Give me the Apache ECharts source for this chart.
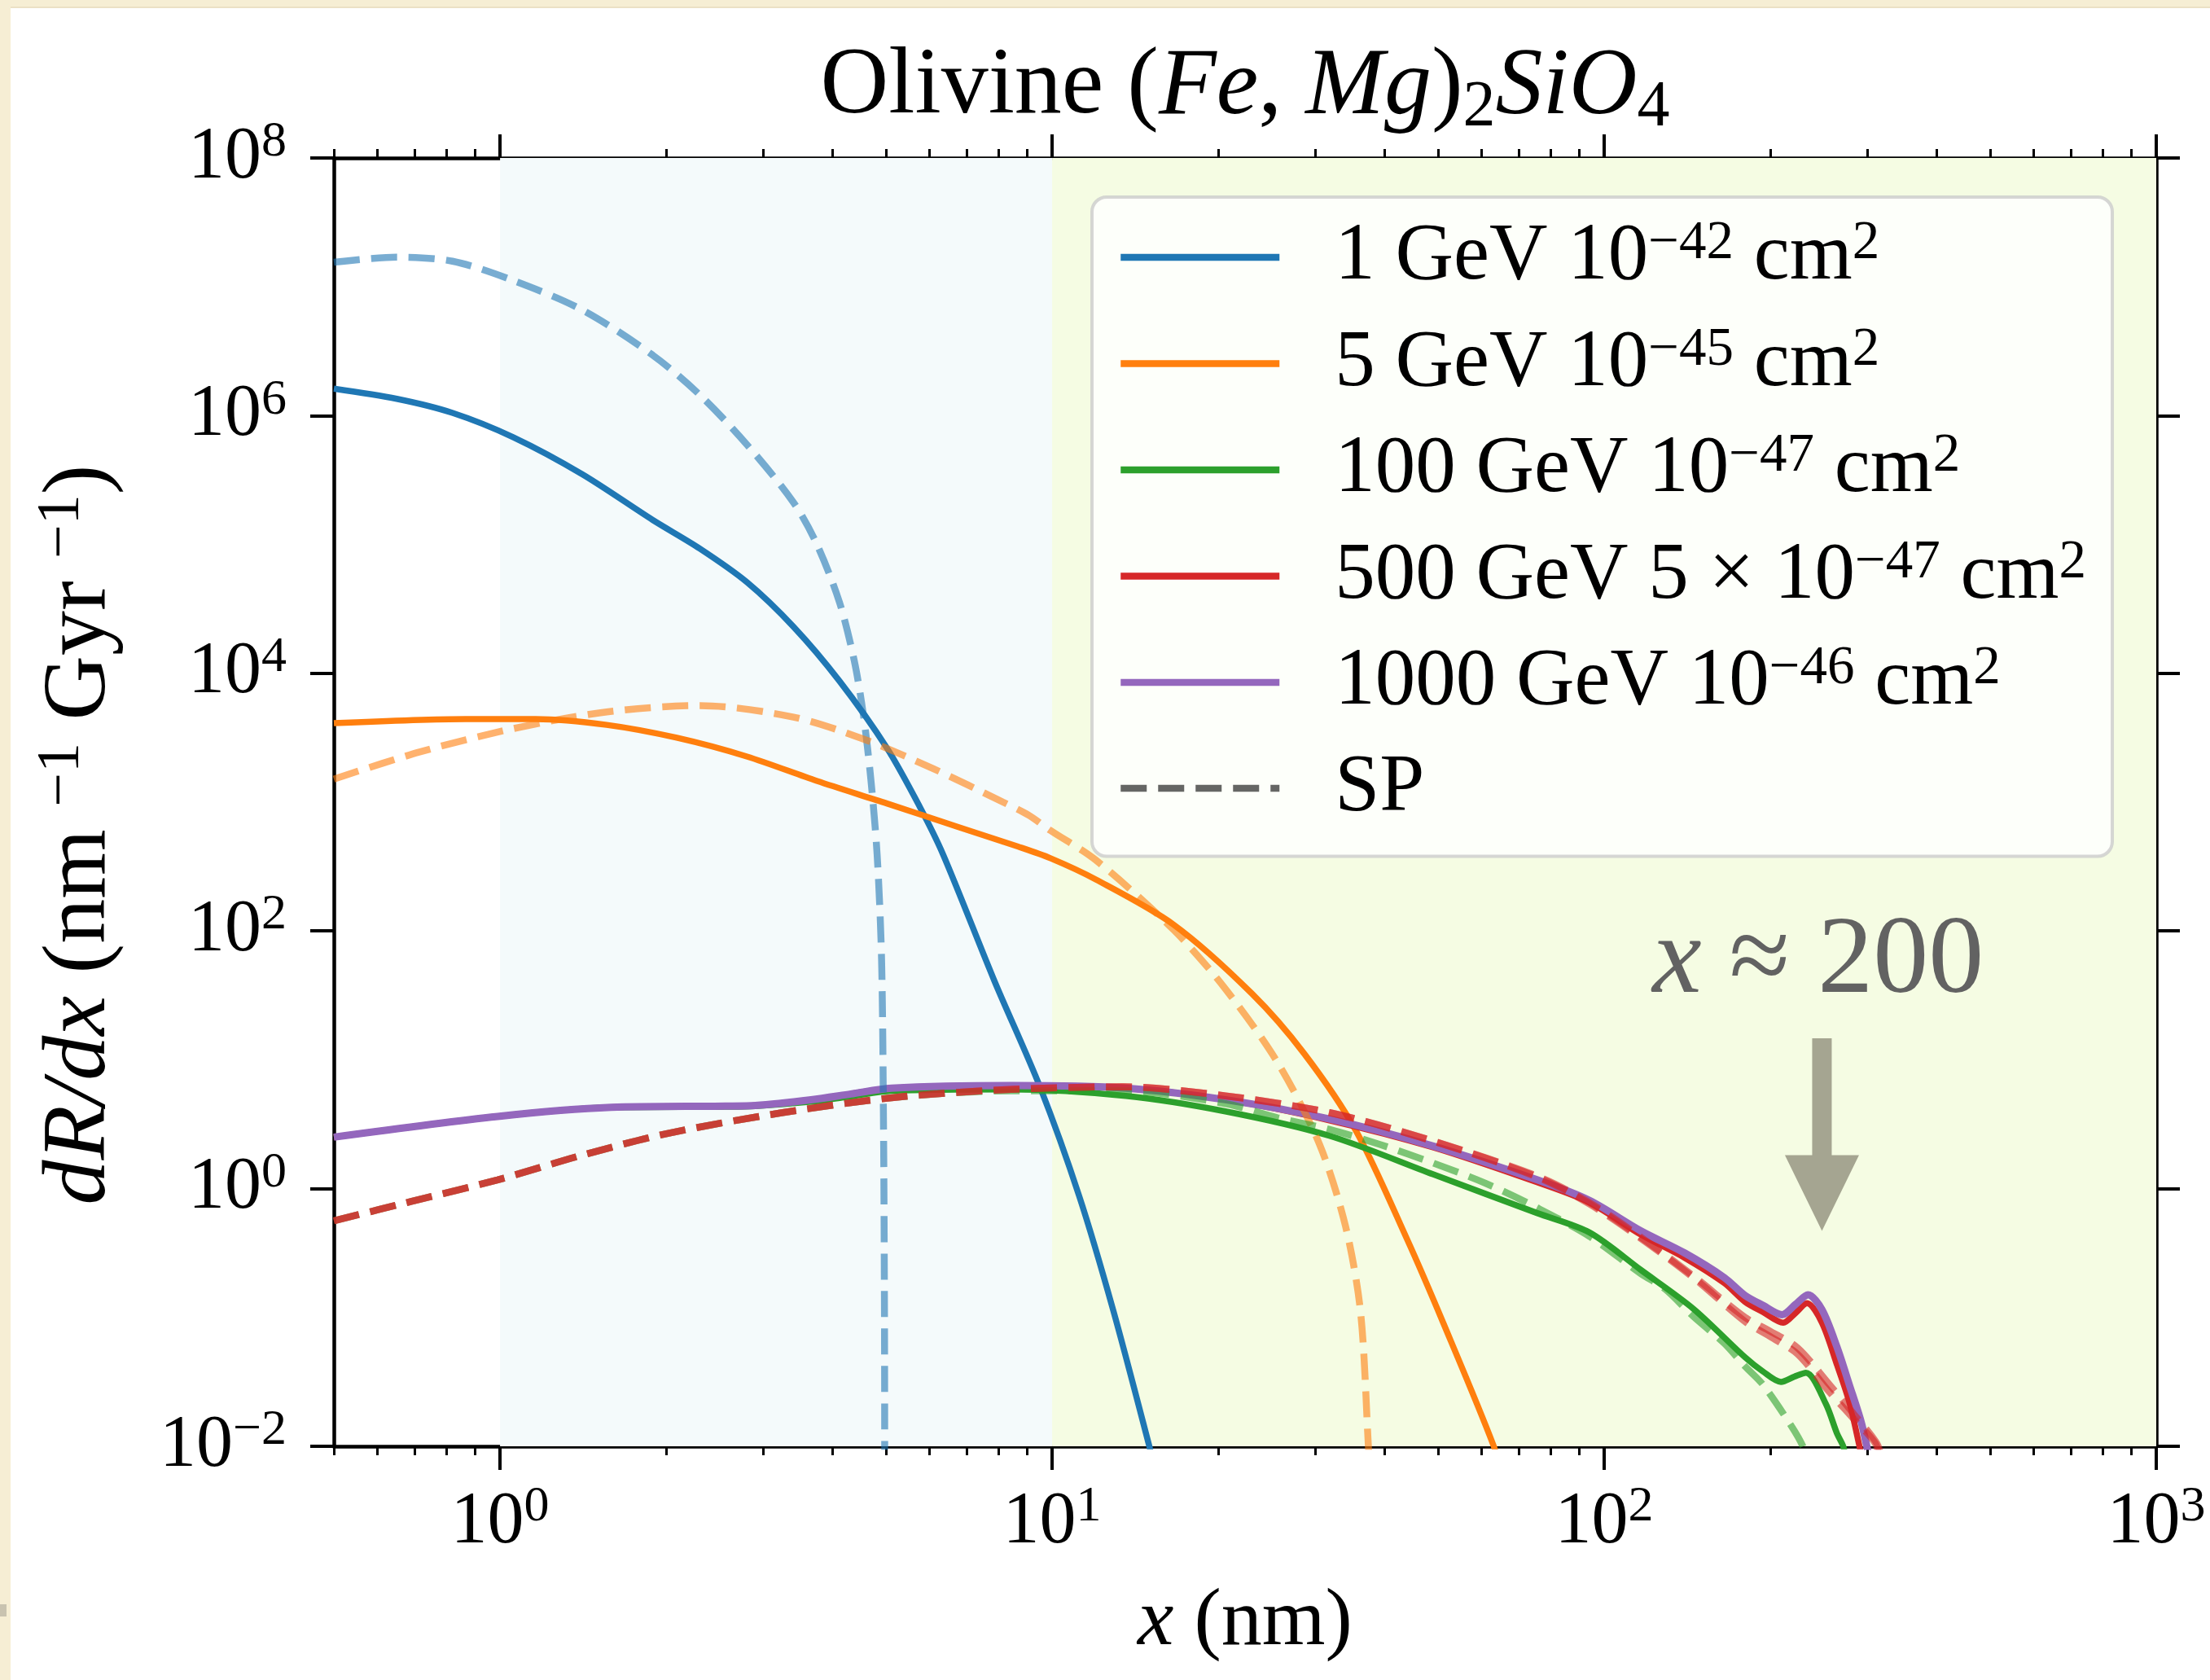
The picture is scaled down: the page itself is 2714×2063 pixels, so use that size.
<!DOCTYPE html>
<html>
<head>
<meta charset="utf-8">
<script src="https://cdn.jsdelivr.net/npm/echarts@6/dist/echarts.min.js"></script>
<style>
html, body { margin: 0; padding: 0; background: #ffffff; }
#chart { width: 2714px; height: 2063px; }
</style>
</head>
<body>
<div id="chart"></div>
<script>
// Track-length spectra dR/dx in olivine; solid = full calculation, dashed = SP approximation.

// Axis ticks
const xMajorTicks = [1, 10, 100, 1000];
const xMinorTicks = [0.5, 0.6, 0.7, 0.8, 0.9, 2, 3, 4, 5, 6, 7, 8, 9,
  20, 30, 40, 50, 60, 70, 80, 90, 200, 300, 400, 500, 600, 700, 800, 900];
const yMajorTicks = [1e-2, 1, 1e2, 1e4, 1e6, 1e8];

// Shaded x ranges
const regionBounds = [1, 10, 1000];

// Benchmark labels
const masses = ['1', '5', '100', '500', '1000'];
const xsecPrefix = ['', '', '', '5 × ', ''];
const xsecExp = [-42, -45, -47, -47, -46];
const colors = ['#1f77b4', '#ff7f0e', '#2ca02c', '#d62728', '#9467bd'];
// colour of each SP (dashed) curve
const spColors = ['#1f77b4', '#ff7f0e', '#2ca02c', '#d62728', '#d62728'];

// 1 GeV, 1e-42 cm^2
const solid1 = [[0.5,1.62e6],[0.65,1.35e6],[0.82,1.05e6],[1.056,6.8e5],[1.41,3.5e5],[1.89,1.55e5],
  [2.3,9.3e4],[2.8,5.1e4],[3.4,2.3e4],[4.12,8.7e3],[5.02,2.63e3],[5.75,930],[6.35,390],[7.86,41],
  [9.5,6.2],[11.2,0.87],[12.9,0.114],[15.0,0.01],[15.3,0.007]];
const sp1 = [[0.5,1.55e7],[0.65,1.7e7],[0.82,1.58e7],[1.056,1.12e7],[1.41,6.6e6],[1.89,2.95e6],
  [2.3,1.45e6],[2.8,5.96e5],[3.4,2.12e5],[3.75,1.0e5],[4.12,3.55e4],[4.38,1.26e4],[4.55,4.8e3],
  [4.69,1.58e3],[4.82,390],[4.91,60],[4.95,3],[4.97,0.1],[4.975,0.005]];

// 5 GeV, 1e-45 cm^2
const solid5 = [[0.5,4100],[0.867,4420],[1.16,4420],[1.56,3980],[2.09,3160],[2.8,2260],[3.75,1460],
  [5.02,977],[6.72,646],[8.67,452],[9.93,367],[12,251],[16.6,112],[23,32.7],[28.6,11.2],[35.5,2.82],
  [44,0.40],[51.2,0.089],[63.1,0.01],[65,0.006]];
const sp5 = [[0.5,1510],[0.715,2450],[1.056,3720],[1.56,5010],[2.3,5620],[3.4,4570],[4.55,3090],
  [6.09,1820],[8.15,1000],[9.06,794],[9.93,603],[12,355],[16.6,102],[20.6,35.5],[25.6,9.55],
  [30.5,2.21],[34,0.51],[36.2,0.11],[37.4,0.01],[37.6,0.006]];

// 100 GeV, 1e-47 cm^2
const solid100 = [[0.5,2.51],[0.99,3.63],[1.59,4.27],[2.56,4.32],[2.9,4.37],[3.66,4.73],[4.32,5.2],
  [5.12,5.75],[8.43,5.9],[13.6,5.25],[20.6,3.98],[31.8,2.57],[49,1.29],[75.6,0.646],[94,0.457],
  [116.5,0.234],[145,0.117],[180,0.049],[194,0.038],[209,0.0316],[221,0.0347],[232,0.0372],
  [252,0.0214],[264,0.0126],[271,0.01],[274,0.008]];
const sp100 = [[0.5,0.562],[0.69,0.794],[0.99,1.17],[1.41,1.82],[2.02,2.69],[3.25,3.89],[5.25,5.13],
  [8.43,5.75],[13.4,5.75],[20.6,4.57],[25.6,3.55],[31.8,2.88],[39.4,2.19],[49,1.58],[61,1.10],
  [75.6,0.71],[94,0.427],[116.5,0.219],[129,0.166],[145,0.102],[165,0.063],[180,0.0417],
  [194,0.030],[218,0.0145],[229,0.01],[232,0.008]];

// 500 GeV, 5e-47 cm^2
const solid500 = [[0.5,2.51],[0.99,3.63],[1.59,4.27],[2.56,4.37],[2.9,4.42],[3.66,4.9],[4.32,5.43],
  [5.12,6.03],[8.43,6.31],[13.6,6.03],[20.6,4.9],[31.8,3.39],[49,2.09],[75.6,1.12],[94,0.78],
  [116.5,0.44],[140,0.29],[165,0.185],[180,0.132],[194,0.110],[211,0.091],[222,0.108],[233,0.129],
  [248,0.091],[264,0.043],[278,0.022],[290,0.01],[293,0.008]];
const sp500 = [[0.5,0.562],[0.69,0.794],[0.99,1.17],[1.41,1.82],[2.02,2.69],[3.25,3.89],[5.25,5.13],
  [8.43,5.89],[13.4,6.17],[20.6,5.25],[31.8,3.89],[49,2.34],[75.6,1.23],[94,0.76],[116.5,0.41],
  [145,0.204],[180,0.093],[200,0.071],[224,0.052],[256,0.0263],[282,0.0166],[310,0.0105],[315,0.008]];

// 1000 GeV, 1e-46 cm^2
const solid1000 = [[0.5,2.51],[0.99,3.63],[1.59,4.27],[2.56,4.37],[2.9,4.42],[3.66,4.9],[4.32,5.43],
  [5.12,6.03],[8.43,6.31],[13.6,6.03],[20.6,4.9],[31.8,3.47],[49,2.14],[75.6,1.17],[94,0.81],
  [116.5,0.47],[140,0.316],[165,0.204],[180,0.148],[194,0.124],[210,0.105],[222,0.126],[234,0.150],
  [248,0.115],[264,0.059],[278,0.030],[292,0.0155],[299,0.01],[302,0.008]];
const sp1000 = [[0.5,0.562],[0.69,0.794],[0.99,1.17],[1.41,1.82],[2.02,2.69],[3.25,3.89],[5.25,5.13],
  [8.43,5.89],[13.4,6.17],[20.6,5.25],[31.8,3.89],[49,2.34],[75.6,1.25],[94,0.78],[116.5,0.42],
  [145,0.21],[180,0.10],[200,0.078],[224,0.058],[256,0.030],[282,0.0182],[312,0.0105],[318,0.008]];

// Annotation: text anchor and arrow (tail, tip)
const noteAnchor = [244, 57];
const arrowTail = [248, 14.7];
const arrowTip = [248, 0.47];

const solidSets = [solid1, solid5, solid100, solid500, solid1000];
const spSets = [sp1, sp5, sp100, sp500, sp1000];

const SERIF = '"Liberation Serif", "DejaVu Serif", serif';
const seriesNames = masses.map((m, i) => m + ' GeV ' + xsecPrefix[i] + '10^' + xsecExp[i] + ' cm^2');

function sup(n) { return String(n).replace('-', '\u2212'); }

function legendLabel(name) {
  const i = seriesNames.indexOf(name);
  if (i < 0) return '{t|' + name + '}';
  return '{t|' + masses[i] + ' GeV ' + xsecPrefix[i] + '10}{s|' + sup(xsecExp[i]) + '}{t| cm}{s|2}';
}

function powLabel(value) {
  const e = Math.round(Math.log10(value));
  return '{m|10}{s|' + sup(e) + '}';
}

const tickRich = {
  m: { fontFamily: SERIF, fontSize: 90, lineHeight: 100, color: '#000' },
  s: { fontFamily: SERIF, fontSize: 62, lineHeight: 50, verticalAlign: 'top', color: '#000' }
};

const series = [];
solidSets.forEach((d, i) => {
  const s = {
    name: seriesNames[i], type: 'line', data: d, symbol: 'none', smooth: 0.3,
    xAxisIndex: 0, yAxisIndex: 0, clip: true, z: 3,
    lineStyle: { color: colors[i], width: i === 4 ? 9 : 7.5, join: 'round' },
    itemStyle: { color: colors[i] }
  };
  if (i === 0) {
    s.markArea = {
      silent: true,
      data: [
        [{ xAxis: regionBounds[0], itemStyle: { color: '#f4fafb' } }, { xAxis: regionBounds[1] }],
        [{ xAxis: regionBounds[1], itemStyle: { color: '#f5fce3' } }, { xAxis: regionBounds[2] }]
      ]
    };
  }
  series.push(s);
});
// dashed SP curves, drawn above the solid ones
[0, 1, 2, 3, 4].forEach(i => {
  series.push({
    name: 'SP ' + masses[i], type: 'line', data: spSets[i], symbol: 'none', smooth: 0.3,
    xAxisIndex: 0, yAxisIndex: 0, clip: true, z: 3,
    lineStyle: { color: spColors[i], width: 8.5, type: [32, 14], opacity: 0.6 },
    itemStyle: { color: spColors[i] }
  });
});
// legend proxy for the dashed style
series.push({
  name: 'SP', type: 'line', data: [], symbol: 'none',
  lineStyle: { color: 'rgba(0,0,0,0.6)', width: 8.5, type: [32, 14] },
  itemStyle: { color: 'rgba(0,0,0,0.6)' }
});
// annotation arrow and label
series.push({
  type: 'custom', coordinateSystem: 'cartesian2d', xAxisIndex: 0, yAxisIndex: 0,
  silent: true, z: 5, clip: false,
  data: [[arrowTip[0], arrowTail[1], arrowTip[1], noteAnchor[0], noteAnchor[1]]],
  renderItem: function (params, api) {
    const tail = api.coord([api.value(0), api.value(1)]);
    const tip = api.coord([api.value(0), api.value(2)]);
    const note = api.coord([api.value(3), api.value(4)]);
    const hw = 12, headW = 45.5, headL = 93;
    const cx = tip[0];
    return {
      type: 'group',
      children: [
        {
          type: 'polygon',
          shape: { points: [
            [cx - hw, tail[1]], [cx + hw, tail[1]], [cx + hw, tip[1] - headL],
            [cx + headW, tip[1] - headL], [cx, tip[1]], [cx - headW, tip[1] - headL],
            [cx - hw, tip[1] - headL]
          ] },
          style: { fill: '#a5a591' }
        },
        {
          type: 'text', x: note[0], y: note[1],
          style: {
            text: '{i|x}{r| \u2248 200}',
            align: 'center', verticalAlign: 'middle',
            rich: {
              i: { fontFamily: SERIF, fontStyle: 'italic', fontSize: 136, fill: '#626262', lineHeight: 150 },
              r: { fontFamily: SERIF, fontSize: 136, fill: '#626262', lineHeight: 150 }
            }
          }
        }
      ]
    };
  }
});

function xAxisDef(position, ticks, len, width, showLine, showLabel) {
  return {
    type: 'log', logBase: 10, position: position, min: 0.5, max: 1000,
    axisLine: { show: showLine, onZero: false, lineStyle: { color: '#000', width: 4.5 } },
    axisTick: { show: true, inside: false, length: len, customValues: ticks,
      lineStyle: { color: '#000', width: width } },
    axisLabel: showLabel ? {
      show: true, customValues: ticks, margin: 44, formatter: powLabel, rich: tickRich
    } : { show: false },
    splitLine: { show: false }, minorTick: { show: false }
  };
}
function yAxisDef(position, showLabel) {
  return {
    type: 'log', logBase: 10, position: position, min: 1e-2, max: 1e8,
    axisLine: { show: true, onZero: false, lineStyle: { color: '#000', width: 4.5 } },
    axisTick: { show: true, inside: false, length: 29, customValues: yMajorTicks,
      lineStyle: { color: '#000', width: 4 } },
    axisLabel: showLabel ? {
      show: true, customValues: yMajorTicks, margin: 58, formatter: powLabel, rich: tickRich
    } : { show: false },
    splitLine: { show: false }
  };
}

const xAxes = [
  xAxisDef('bottom', xMajorTicks, 29, 4, true, true),
  xAxisDef('bottom', xMinorTicks, 11, 3, false, false),
  xAxisDef('top', xMajorTicks, 29, 4, true, false),
  xAxisDef('top', xMinorTicks, 11, 3, false, false)
];
xAxes[0].name = '{i|x}{r| (nm)}';
xAxes[0].nameLocation = 'middle';
xAxes[0].nameGap = 159;
xAxes[0].nameTextStyle = {
  rich: {
    i: { fontFamily: SERIF, fontStyle: 'italic', fontSize: 100, lineHeight: 115, color: '#000' },
    r: { fontFamily: SERIF, fontSize: 100, lineHeight: 115, color: '#000' }
  }
};

const yAxes = [yAxisDef('left', true), yAxisDef('right', false)];
yAxes[0].name = '{i|dR/dx}{r| (nm }{s|\u22121}{r| Gyr }{s|\u22121}{r|)}';
yAxes[0].nameLocation = 'middle';
yAxes[0].nameRotate = 90;
yAxes[0].nameGap = 252;
yAxes[0].nameTextStyle = {
  padding: [0, 80, 0, 0],
  rich: {
    i: { fontFamily: SERIF, fontStyle: 'italic', fontSize: 110, lineHeight: 118, color: '#000' },
    r: { fontFamily: SERIF, fontSize: 110, lineHeight: 118, color: '#000' },
    s: { fontFamily: SERIF, fontSize: 74, lineHeight: 60, verticalAlign: 'top', color: '#000' }
  }
};

const option = {
  animation: false,
  backgroundColor: '#ffffff',
  grid: { left: 410, right: 66, top: 194, bottom: 287, containLabel: false },
  legend: {
    orient: 'vertical', left: 1341, top: 242,
    data: seriesNames.concat(['SP']),
    itemWidth: 195, itemHeight: 9, itemGap: 31,
    padding: [24, 32, 34, 31],
    backgroundColor: 'rgba(255,255,255,0.8)',
    borderColor: 'rgba(204,204,204,0.8)', borderWidth: 4, borderRadius: 18,
    selectedMode: false,
    lineStyle: { width: 8.5, type: 'inherit' },
    itemStyle: { opacity: 0 },
    formatter: legendLabel,
    textStyle: {
      padding: [0, 0, 0, 63],
      rich: {
        t: { fontFamily: SERIF, fontSize: 99, lineHeight: 100, color: '#000' },
        s: { fontFamily: SERIF, fontSize: 67, lineHeight: 50, verticalAlign: 'top', color: '#000' }
      }
    }
  },
  graphic: [
    { type: 'rect', shape: { x: 0, y: 0, width: 2714, height: 10 }, style: { fill: '#f6eed4' }, silent: true },
    { type: 'rect', shape: { x: 0, y: 8, width: 2714, height: 2 }, style: { fill: '#ebe1c5' }, silent: true },
    { type: 'rect', shape: { x: 0, y: 0, width: 13, height: 2063 }, style: { fill: '#f6eed4' }, silent: true },
    { type: 'rect', shape: { x: 0, y: 1970, width: 8, height: 15 }, style: { fill: '#c9c3b0' }, silent: true },
    // title, centred over the plot area
    {
      type: 'text', x: 1529, y: 108, silent: true,
      style: {
        text: '{r|Olivine (}{i|Fe}{r|, }{i|Mg}{r|)}{b|2}{i|SiO}{b|4}',
        align: 'center', verticalAlign: 'middle',
        rich: {
          r: { fontFamily: SERIF, fontSize: 116, lineHeight: 130, fill: '#000' },
          i: { fontFamily: SERIF, fontStyle: 'italic', fontSize: 116, lineHeight: 130, fill: '#000' },
          b: { fontFamily: SERIF, fontSize: 80, lineHeight: 60, verticalAlign: 'bottom', fill: '#000' }
        }
      }
    }
  ],
  xAxis: xAxes,
  yAxis: yAxes,
  series: series
};

const chart = echarts.init(document.getElementById('chart'), null, { renderer: 'canvas' });
chart.setOption(option);
</script>
</body>
</html>
